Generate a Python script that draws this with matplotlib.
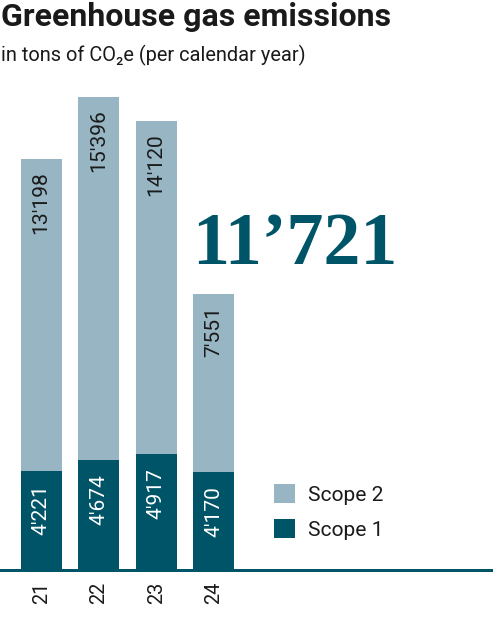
import matplotlib
matplotlib.use("Agg")
import matplotlib.pyplot as plt
from matplotlib.patches import Patch

# ---- data ----
years = ["21", "22", "23", "24"]
scope1 = [4221, 4674, 4917, 4170]
scope2 = [13198, 15396, 14120, 7551]
series_labels = ["Scope 1", "Scope 2"]

DARK = "#005468"
LIGHT = "#97b5c3"
TXT = "#1a1a1a"

def fmt(v, apos="'"):
    return f"{v:,}".replace(",", apos)

SANS = ["Roboto", "DejaVu Sans"]
W, H = 493, 643
fig = plt.figure(figsize=(W / 100, H / 100), dpi=100)
px = 0.72  # points per pixel

ax = fig.add_axes([0, 1 - 570 / H, 1, (570 - 97) / H])
x = list(range(len(years)))
bw = 0.713
ax.bar(x, scope1, width=bw, color=DARK, label=series_labels[0], zorder=2)
ax.bar(x, scope2, width=bw, bottom=scope1, color=LIGHT, label=series_labels[1], zorder=2)
ax.set_ylim(0, scope1[1] + scope2[1])
ax.set_xlim(-0.716, 7.857)
for s in ax.spines.values():
    s.set_visible(False)
ax.axhline(0, color=DARK, lw=3 * px, clip_on=False, zorder=3)
ax.set_yticks([])
ax.set_xticks(x)
ax.set_xticklabels(years, rotation=90, va="top", ha="center",
                   fontsize=20 * px, family=SANS, color=TXT)
ax.tick_params(axis="x", length=0, pad=12 * px)

for xi, a, b in zip(x, scope1, scope2):
    ax.annotate(fmt(a), xy=(xi, a), xytext=(0, -14 * px), textcoords="offset points",
                rotation=90, ha="center", va="top", color="white",
                fontsize=21 * px, family=SANS)
    ax.annotate(fmt(b), xy=(xi, a + b), xytext=(0, -12 * px), textcoords="offset points",
                rotation=90, ha="center", va="top", color=TXT,
                fontsize=21 * px, family=SANS)

# legend
handles = [Patch(facecolor=LIGHT), Patch(facecolor=DARK)]
leg = ax.legend(handles, [series_labels[1], series_labels[0]],
                loc="upper left", bbox_to_anchor=(274 / W, 1 - 484 / H),
                bbox_transform=fig.transFigure, frameon=False,
                prop={"family": SANS, "size": 21 * px},
                handlelength=1.0, handleheight=1.0, handletextpad=0.6,
                labelspacing=0.7, borderpad=0, borderaxespad=0)
for t in leg.get_texts():
    t.set_color(TXT)

# title & subtitle
fig.text(1 / W, 1 - 26 / H, "Greenhouse gas emissions", fontsize=32 * px,
         fontweight="bold", family=SANS, color=TXT, va="baseline", ha="left")
fig.text(1 / W, 1 - 61 / H, "in tons of CO\u2082e (per calendar year)", fontsize=20 * px,
         family=SANS, color=TXT, va="baseline", ha="left")

# highlighted total of latest year
total = scope1[-1] + scope2[-1]
fig.text(192 / W, 1 - 264 / H, fmt(total, "\u2019"), fontsize=74 * px, fontweight="bold",
         family=["Liberation Serif", "DejaVu Serif"], color=DARK, va="baseline", ha="left")

fig.savefig("out.png", dpi=100)
